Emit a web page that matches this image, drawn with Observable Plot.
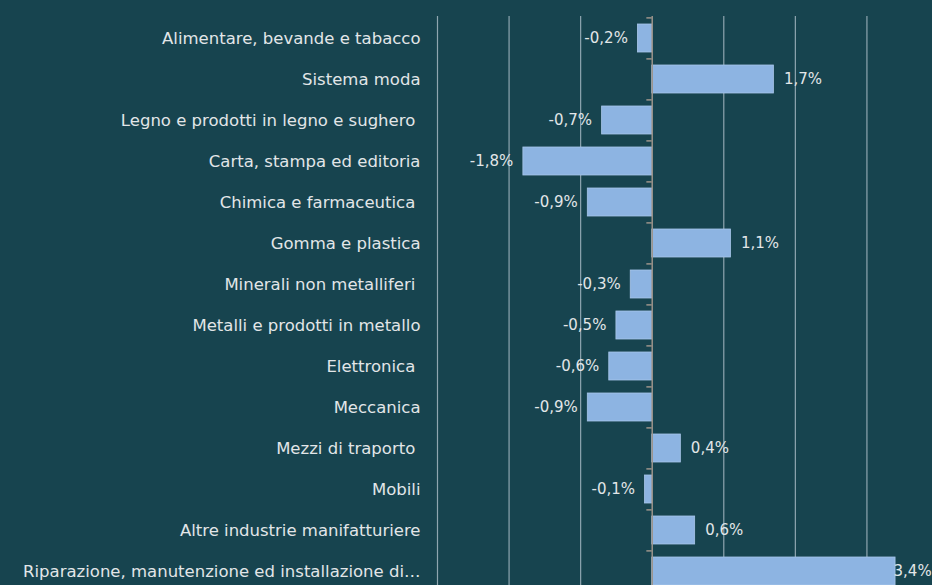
<!DOCTYPE html>
<html>
<head>
<meta charset="utf-8">
<script src="https://cdn.jsdelivr.net/npm/d3@7"></script>
<script src="https://cdn.jsdelivr.net/npm/@observablehq/plot@0.6"></script>
<style>
  html, body { margin: 0; padding: 0; background: #17444f; overflow: hidden; }
  #chart { width: 932px; height: 585px; overflow: hidden; }
  #chart svg { overflow: hidden; }
</style>
</head>
<body>
<div id="chart"></div>
<script>
const categories = [
  "Alimentare, bevande e tabacco",
  "Sistema moda",
  "Legno e prodotti in legno e sughero ",
  "Carta, stampa ed editoria",
  "Chimica e farmaceutica ",
  "Gomma e plastica",
  "Minerali non metalliferi ",
  "Metalli e prodotti in metallo",
  "Elettronica ",
  "Meccanica",
  "Mezzi di traporto ",
  "Mobili",
  "Altre industrie manifatturiere",
  "Riparazione, manutenzione ed installazione di…"
];
const values = [-0.2, 1.7, -0.7, -1.8, -0.9, 1.1, -0.3, -0.5, -0.6, -0.9, 0.4, -0.1, 0.6, 3.4];
const gridTicks = [-3, -2, -1, 1, 2, 3];

const data = categories.map((c, i) => ({category: c, value: values[i]}));
const fmt = v => (v < 0 ? "-" : "") + Math.abs(v).toFixed(1).replace(".", ",") + "%";
const step = (593 - 16) / categories.length;

const plot = Plot.plot({
  width: 932,
  height: 585,
  marginLeft: 437,
  marginTop: 16,
  marginBottom: 0,
  marginRight: 0,
  style: {background: "#17444f", color: "#e2e6e8", fontFamily: "DejaVu Sans", fontSize: "15px"},
  x: {domain: [-3, 4], range: [437, 938], axis: null},
  y: {domain: categories, range: [16, 593], paddingInner: 0.32, paddingOuter: 0.16, axis: null},
  marks: [
    Plot.ruleX(gridTicks, {stroke: "#8fa6b0", strokeWidth: 1.2}),
    Plot.barX(data, {y: "category", x: "value", fill: "#8db4e2", stroke: "#a9c6ea", strokeWidth: 0.8}),
    Plot.ruleX([0], {stroke: "#9c948b", strokeWidth: 1.5}),
    Plot.ruleY(categories, {y: d => d, x1: -0.075, x2: 0, dy: -step / 2, stroke: "#9c948b", strokeWidth: 1.5}),
    Plot.axisY({anchor: "left", tickSize: 0, tickPadding: 17, fontSize: 16.5, letterSpacing: 1.2, fill: "#e2e6e8", label: null}),
    Plot.text(data.filter(d => d.value < 0), {y: "category", x: "value", text: d => fmt(d.value), textAnchor: "end", dx: -10, fill: "#e2e6e8", fontSize: 15, letterSpacing: 0.3}),
    Plot.text(data.filter(d => d.value > 0 && d.value < 3), {y: "category", x: "value", text: d => fmt(d.value), textAnchor: "start", dx: 10, fill: "#e2e6e8", fontSize: 15, letterSpacing: 0.3}),
    Plot.text(data.filter(d => d.value >= 3), {y: "category", x: "value", text: d => fmt(d.value), textAnchor: "start", dx: -2, fill: "#e2e6e8", fontSize: 15})
  ]
});
document.getElementById("chart").appendChild(plot);
</script>
</body>
</html>
